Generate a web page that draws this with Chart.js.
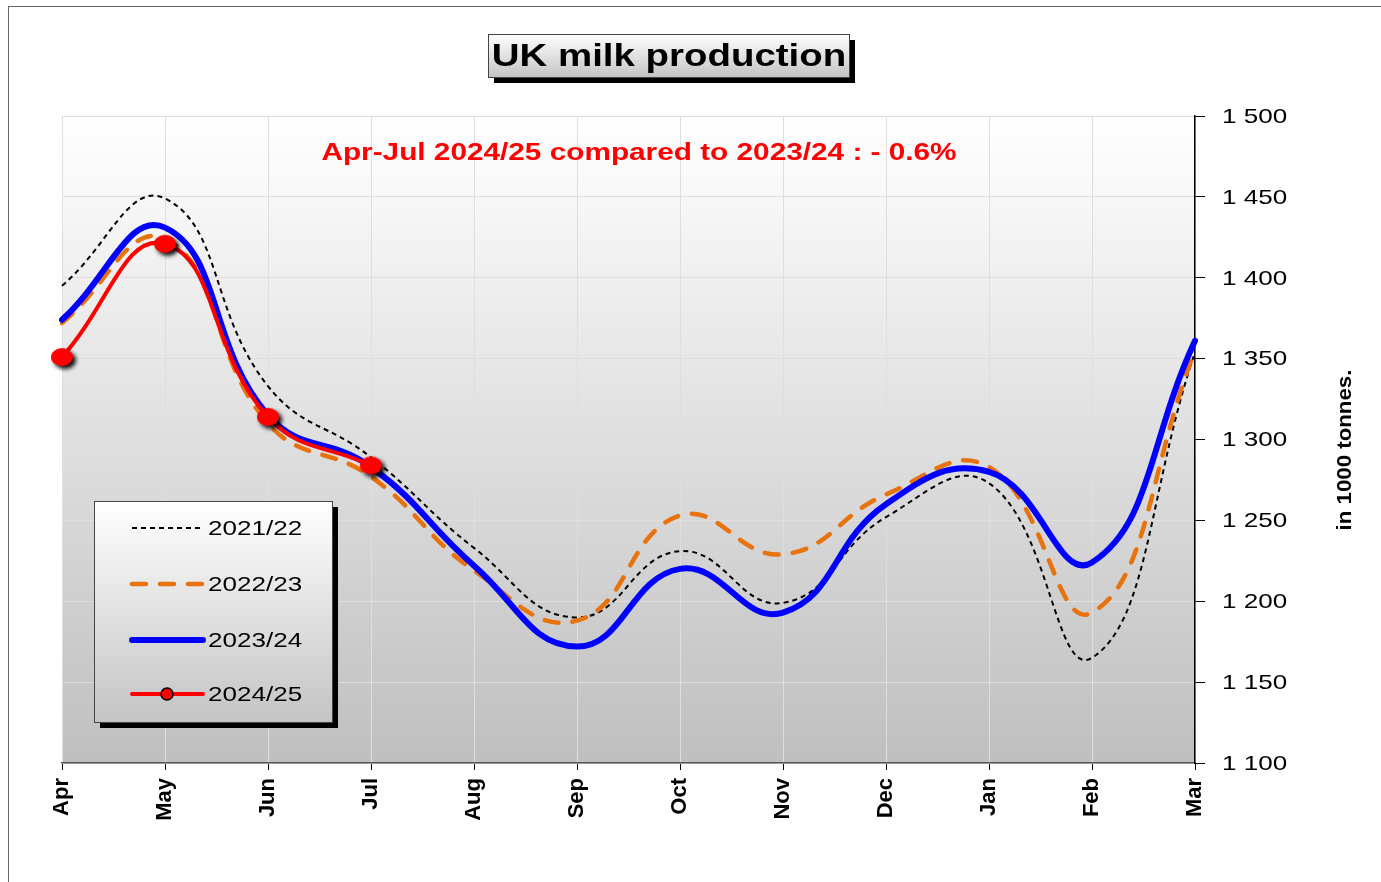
<!DOCTYPE html>
<html>
<head>
<meta charset="utf-8">
<script src="https://cdn.jsdelivr.net/npm/chart.js@4.4.0/dist/chart.umd.min.js"></script>
<style>
  html, body { margin: 0; padding: 0; background: #fff; }
  #wrap { width: 1381px; height: 882px; }
</style>
</head>
<body>
<div id="wrap"><canvas id="milkChart" width="1381" height="882"></canvas></div>
<script>
const months = ['Apr', 'May', 'Jun', 'Jul', 'Aug', 'Sep', 'Oct', 'Nov', 'Dec', 'Jan', 'Feb', 'Mar'];
const prod2021 = [1395, 1449, 1333, 1289, 1233, 1190, 1231, 1199, 1252, 1273, 1165, 1354];
const prod2022 = [1372, 1424, 1310, 1277, 1219, 1188, 1253, 1229, 1266, 1283, 1193, 1355];
const prod2023 = [1374, 1431, 1315, 1283, 1222, 1172, 1220, 1193, 1260, 1280, 1224, 1361];
const prod2024 = [1351, 1421, 1314, 1284];
const yTicks = [1100, 1150, 1200, 1250, 1300, 1350, 1400, 1450, 1500];

const FONT = '"Liberation Sans", Arial, sans-serif';
const subtitle = 'Apr-Jul 2024/25 compared to 2023/24 : - 0.6%';
const STRETCH = 1.24; // the original picture is a little wider than tall

// red marker with a soft black shadow, drawn once on a small canvas
function makeDot(rx, ry) {
    const c = document.createElement('canvas');
    c.width = rx * 2 + 14;
    c.height = ry * 2 + 14;
    const g = c.getContext('2d');
    g.shadowColor = 'rgba(0,0,0,0.95)';
    g.shadowBlur = 4;
    g.shadowOffsetX = 3;
    g.shadowOffsetY = 3;
    g.beginPath();
    g.ellipse(c.width / 2, c.height / 2, rx, ry, 0, 0, Math.PI * 2);
    g.fillStyle = '#ff0000';
    g.fill();
    return c;
}
const redDot = makeDot(11, 9);

function fmt(v) {
    return String(v).replace(/\B(?=(\d{3})+(?!\d))/g, ' ');
}

// horizontal text, widened like the original
function wideText(ctx, text, x, y, align) {
    ctx.save();
    ctx.translate(x, y);
    ctx.scale(STRETCH, 1);
    ctx.textAlign = align;
    ctx.fillText(text, 0, 0);
    ctx.restore();
}

function shadowBox(ctx, x, y, w, h, off) {
    ctx.fillStyle = '#000';
    ctx.fillRect(x + off, y + off, w, h);
    const gr = ctx.createLinearGradient(0, y, 0, y + h);
    gr.addColorStop(0, '#ffffff');
    gr.addColorStop(1, '#c4c4c4');
    ctx.fillStyle = gr;
    ctx.fillRect(x, y, w, h);
    ctx.strokeStyle = '#444';
    ctx.lineWidth = 1;
    ctx.strokeRect(x + 0.5, y + 0.5, w, h);
}

const decor = {
    id: 'decor',
    beforeDraw(chart) {
        const ctx = chart.ctx;
        const a = chart.chartArea;
        ctx.save();
        ctx.fillStyle = '#fff';
        ctx.fillRect(0, 0, chart.width, chart.height);
        ctx.strokeStyle = '#666';
        ctx.lineWidth = 1;
        ctx.strokeRect(8.5, 6.5, chart.width + 20, chart.height + 20);
        const gr = ctx.createLinearGradient(0, a.top, 0, a.bottom);
        gr.addColorStop(0, '#ffffff');
        gr.addColorStop(1, '#bfbfbf');
        ctx.fillStyle = gr;
        ctx.fillRect(a.left, a.top, a.right - a.left, a.bottom - a.top);
        ctx.restore();
    },
    afterDraw(chart) {
        const ctx = chart.ctx;
        const a = chart.chartArea;
        const ys = chart.scales.y;
        ctx.save();
        ctx.textBaseline = 'middle';

        // y tick labels
        ctx.fillStyle = '#000';
        ctx.font = '21px ' + FONT;
        ys.ticks.forEach(t => {
            wideText(ctx, fmt(t.value), a.right + 27, ys.getPixelForValue(t.value) + 1, 'left');
        });

        // title box
        shadowBox(ctx, 488, 34, 361, 43, 6);
        ctx.fillStyle = '#000';
        ctx.font = 'bold 31px ' + FONT;
        wideText(ctx, 'UK milk production', 669, 57, 'center');

        // comparison note
        ctx.fillStyle = '#ff0000';
        ctx.font = 'bold 24px ' + FONT;
        wideText(ctx, subtitle, 639, 153, 'center');

        // y axis title, reading upwards
        ctx.save();
        ctx.translate(1345, 450);
        ctx.rotate(-Math.PI / 2);
        ctx.fillStyle = '#000';
        ctx.font = 'bold 21px ' + FONT;
        ctx.textAlign = 'center';
        ctx.scale(1.06, 1);
        ctx.fillText('in 1000 tonnes.', 0, 0);
        ctx.restore();

        // legend
        shadowBox(ctx, 94, 501, 238, 221, 6);
        const rows = [528, 584, 640, 694];
        ctx.font = '21px ' + FONT;
        chart.data.datasets.forEach((ds, i) => {
            const y = rows[i];
            ctx.save();
            ctx.strokeStyle = ds.borderColor;
            ctx.lineWidth = ds.borderWidth;
            ctx.lineCap = ds.borderCapStyle || 'butt';
            ctx.setLineDash(ds.borderDash || []);
            ctx.beginPath();
            ctx.moveTo(132, y);
            ctx.lineTo(203, y);
            ctx.stroke();
            if (ds.legendDot) {
                ctx.setLineDash([]);
                ctx.beginPath();
                ctx.arc(167, y, 6, 0, Math.PI * 2);
                ctx.fillStyle = '#ff0000';
                ctx.fill();
                ctx.lineWidth = 1.5;
                ctx.strokeStyle = '#000';
                ctx.stroke();
            }
            ctx.restore();
            ctx.fillStyle = '#000';
            wideText(ctx, ds.label, 208, y + 1, 'left');
        });
        ctx.restore();
    }
};

const ctx = document.getElementById('milkChart').getContext('2d');
new Chart(ctx, {
    type: 'line',
    data: {
        labels: months,
        datasets: [
            {
                label: '2021/22',
                data: prod2021,
                borderColor: '#000000',
                borderWidth: 2,
                borderDash: [5, 4],
                pointRadius: 0,
                tension: 0.45,
                order: 3
            },
            {
                label: '2022/23',
                data: prod2022,
                borderColor: '#e8720c',
                borderWidth: 4.5,
                borderDash: [14, 14],
                borderCapStyle: 'round',
                pointRadius: 0,
                tension: 0.45,
                order: 2
            },
            {
                label: '2023/24',
                data: prod2023,
                borderColor: '#0000ff',
                borderWidth: 6,
                borderCapStyle: 'round',
                pointRadius: 0,
                tension: 0.45,
                order: 1
            },
            {
                label: '2024/25',
                data: prod2024,
                borderColor: '#ff0000',
                borderWidth: 4,
                borderCapStyle: 'round',
                pointStyle: redDot,
                pointRadius: 10,
                tension: 0.45,
                legendDot: true,
                order: 0
            }
        ]
    },
    options: {
        responsive: false,
        animation: false,
        events: [],
        layout: { padding: { top: 116, left: 62, right: 0, bottom: 0 } },
        plugins: {
            legend: { display: false },
            title: { display: false },
            tooltip: { enabled: false }
        },
        scales: {
            x: {
                offset: false,
                grid: { color: '#dedede', tickColor: '#000', tickLength: 7, lineWidth: 1 },
                border: { color: '#555', width: 1.5 },
                ticks: {
                    color: '#000',
                    font: { family: FONT, size: 22, weight: 'bold' },
                    minRotation: 90,
                    maxRotation: 90,
                    padding: 8,
                    autoSkip: false
                },
                afterFit(scale) { scale.height = 882 - 763; }
            },
            y: {
                position: 'right',
                min: 1100,
                max: 1500,
                afterBuildTicks(scale) { scale.ticks = yTicks.map(v => ({ value: v })); },
                grid: { color: '#dedede', tickColor: '#000', tickLength: 10, lineWidth: 1 },
                border: { color: '#000', width: 1.5 },
                // labels are drawn widened by the decor plugin
                ticks: { display: false },
                afterFit(scale) { scale.width = 1381 - 1195; }
            }
        }
    },
    plugins: [decor]
});
</script>
</body>
</html>
